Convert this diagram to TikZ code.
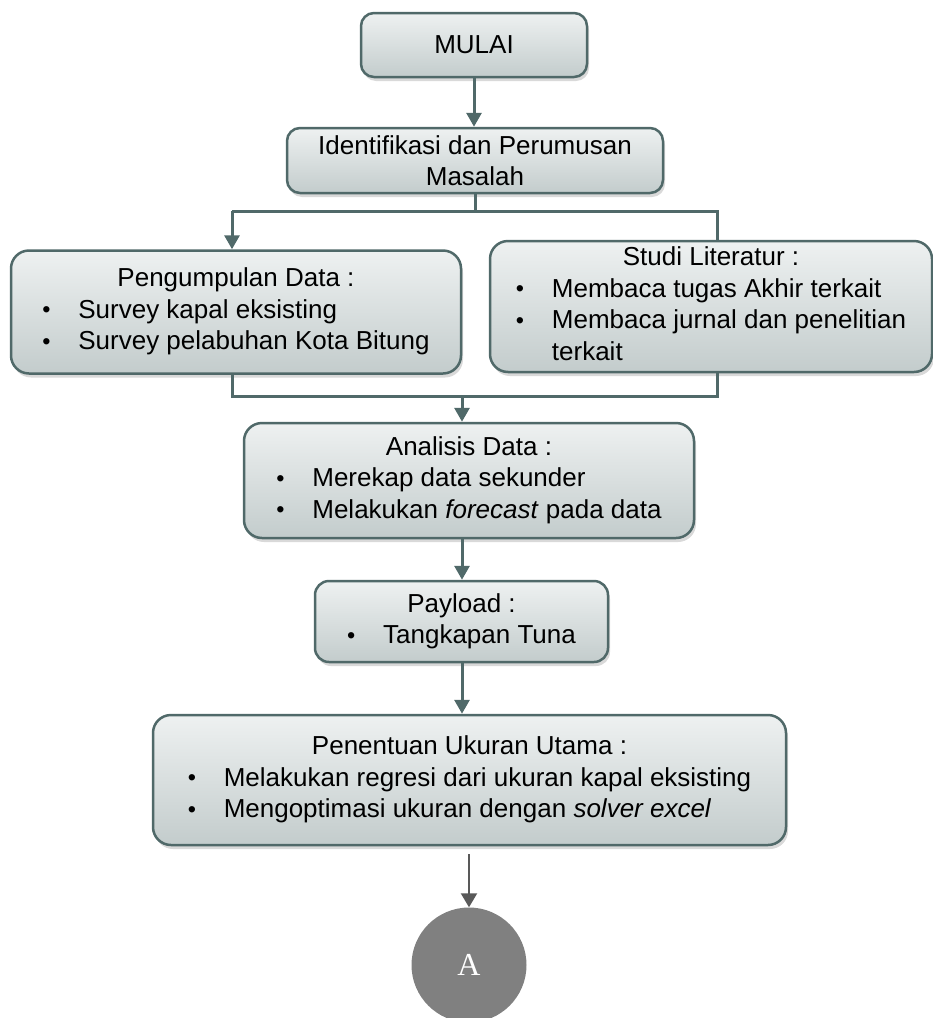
\documentclass[tikz,border=0pt]{standalone}
\usepackage{fontspec}
\setmainfont{Liberation Sans}
\newfontfamily\serifA{Liberation Serif}
\usepackage{graphicx}
\usepackage{tikz}
\usetikzlibrary{arrows.meta, positioning, shadows}
\definecolor{LIN}{HTML}{506969}
\definecolor{TOP}{HTML}{EEF1F1}
\definecolor{BOT}{HTML}{C3CCCC}
\definecolor{CIR}{HTML}{808080}
\definecolor{ARR}{HTML}{595959}
\tikzset{
  BOX/.style={% Style for the process boxes
      rectangle, rounded corners=18pt,
      line width=2.5pt, draw=LIN,
      top color=TOP, bottom color=BOT,
      drop shadow={shadow xshift=2pt, shadow yshift=-4pt, opacity=.3},
      font=\fontsize{26}{31.5}\selectfont,
      inner sep=2pt,
  },
  LINE/.style={% Style for plain connector lines
      line width=3pt, draw=LIN,
  },
  ARROW/.style={% Style for connectors with a head
      LINE, ->, >={Triangle[width=15pt,length=14pt]},
  },
}
\def\bul{\makebox[36pt][l]{\raisebox{.5pt}{\scalebox{.9}{\textbullet}}}}% bullet + indent

\begin{document}
\begin{tikzpicture}[x=1pt,y=-1pt]
  \useasboundingbox (0,0) rectangle (933,1018);
  % boxes
  \node[BOX, rounded corners=13pt, minimum width=226pt, minimum height=64pt] (start) at (474,45) {MULAI};
  \node[BOX, rounded corners=13pt, minimum width=376pt, minimum height=65pt, align=center] (ident) at (475,160.5)
        {Identifikasi dan Perumusan\\Masalah};
  \node[BOX, minimum width=450pt, minimum height=123pt] (kumpul) at (236,312)
        {\begin{tabular}{@{}l@{}}\multicolumn{1}{@{}c@{}}{Pengumpulan Data :}\\
         \bul Survey kapal eksisting\\
         \bul Survey pelabuhan Kota Bitung\end{tabular}};
  \node[BOX, minimum width=442pt, minimum height=131pt] (studi) at (711,306.5)
        {\begin{tabular}{@{}l@{}}\multicolumn{1}{@{}c@{}}{Studi Literatur :}\\
         \bul Membaca tugas Akhir terkait\\
         \bul Membaca jurnal dan penelitian\\
         \hspace*{36pt}terkait\end{tabular}};
  \node[BOX, minimum width=450pt, minimum height=115pt] (analisis) at (469,480.5)
        {\begin{tabular}{@{}l@{}}\multicolumn{1}{@{}c@{}}{Analisis Data :}\\
         \bul Merekap data sekunder\\
         \bul Melakukan \textit{forecast} pada data\end{tabular}};
  \node[BOX, rounded corners=14pt, minimum width=293pt, minimum height=81pt] (payload) at (461.5,621.5)
        {\begin{tabular}{@{}l@{}}\multicolumn{1}{@{}c@{}}{Payload :}\\
         \bul Tangkapan Tuna\end{tabular}};
  \node[BOX, minimum width=633pt, minimum height=130pt] (ukuran) at (469.5,780)
        {\begin{tabular}{@{}l@{}}\multicolumn{1}{@{}c@{}}{Penentuan Ukuran Utama :}\\
         \bul Melakukan regresi dari ukuran kapal eksisting\\
         \bul Mengoptimasi ukuran dengan \textit{solver excel}\end{tabular}};
  \node[circle, fill=CIR, minimum size=115pt, text=white,
        font=\serifA\fontsize{32}{38}\selectfont] (conA) at (469,965) {A};
  % fork and join points
  \coordinate (forkL) at (232,211);
  \coordinate (forkR) at (717,211);
  \coordinate (joinL) at (232,396);
  \coordinate (joinR) at (717,396);
  \coordinate (join) at (462,396);
  % connectors
  \draw[ARROW] (start.south) -- (start.south |- ident.north);
  \draw[LINE] (ident.south) -- (ident.south |- forkL);
  \draw[LINE] (forkL) -- (forkR) -- (forkR |- studi.north);
  \draw[ARROW] (forkL) -- (forkL |- kumpul.north);
  \draw[LINE] (joinL |- kumpul.south) -- (joinL) -- (joinR) -- (joinR |- studi.south);
  \draw[ARROW] (join) -- (join |- analisis.north);
  \draw[ARROW] (join |- analisis.south) -- (join |- payload.north);
  \draw[ARROW] (join |- payload.south) -- (join |- ukuran.north);
  \draw[ARROW, draw=ARR, line width=2pt, >={Triangle[width=16pt,length=14pt]}, shorten <=8pt]
       (conA.north |- ukuran.south) -- (conA.north);
\end{tikzpicture}
\end{document}
